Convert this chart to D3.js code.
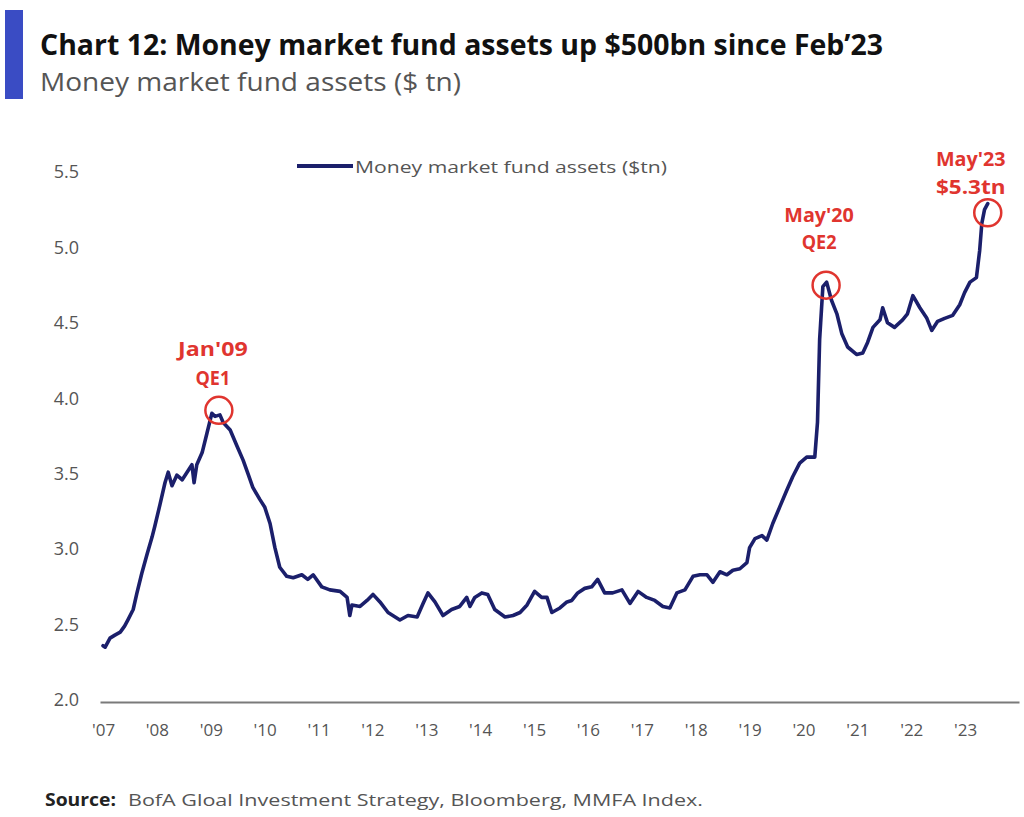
<!DOCTYPE html>
<html>
<head>
<meta charset="utf-8">
<script src="https://cdn.jsdelivr.net/npm/d3@7"></script>
<style>
  html, body { margin: 0; padding: 0; background: #ffffff; }
  svg { display: block; }
  text { font-family: "Open Sans", "Noto Sans", sans-serif; }
</style>
</head>
<body>
<svg id="chart" width="1024" height="817"></svg>
<script>
// ---- Data ----
const years = [
  2007.00, 2007.04, 2007.13, 2007.22, 2007.32, 2007.40, 2007.46, 2007.56, 2007.63, 2007.72,
  2007.82, 2007.91, 2007.96, 2008.06, 2008.15, 2008.21, 2008.28, 2008.37, 2008.47, 2008.56,
  2008.65, 2008.69, 2008.74, 2008.84, 2008.93, 2009.02, 2009.08, 2009.17, 2009.23, 2009.36,
  2009.49, 2009.60, 2009.69, 2009.78, 2009.91, 2010.00, 2010.10, 2010.19, 2010.28, 2010.41,
  2010.53, 2010.69, 2010.80, 2010.90, 2011.06, 2011.21, 2011.40, 2011.53, 2011.58, 2011.62,
  2011.77, 2011.90, 2012.01, 2012.14, 2012.29, 2012.51, 2012.66, 2012.83, 2012.94, 2013.03,
  2013.16, 2013.31, 2013.47, 2013.62, 2013.75, 2013.81, 2013.90, 2014.03, 2014.14, 2014.27,
  2014.46, 2014.61, 2014.74, 2014.87, 2015.01, 2015.14, 2015.24, 2015.33, 2015.48, 2015.61,
  2015.70, 2015.81, 2015.94, 2016.07, 2016.18, 2016.31, 2016.46, 2016.63, 2016.78, 2016.93,
  2017.09, 2017.24, 2017.39, 2017.52, 2017.65, 2017.80, 2017.95, 2018.08, 2018.21, 2018.32,
  2018.45, 2018.58, 2018.69, 2018.82, 2018.95, 2019.00, 2019.10, 2019.23, 2019.32, 2019.43,
  2019.56, 2019.69, 2019.80, 2019.93, 2020.06, 2020.21, 2020.26, 2020.30, 2020.36, 2020.43,
  2020.52, 2020.62, 2020.71, 2020.82, 2020.99, 2021.10, 2021.19, 2021.29, 2021.42, 2021.47,
  2021.56, 2021.69, 2021.84, 2021.93, 2022.03, 2022.16, 2022.29, 2022.38, 2022.49, 2022.62,
  2022.77, 2022.90, 2022.99, 2023.09, 2023.21, 2023.27, 2023.31, 2023.36, 2023.42
];
const assets = [
  2.36, 2.35, 2.41, 2.43, 2.45, 2.49, 2.53, 2.60, 2.71, 2.84,
  2.97, 3.08, 3.15, 3.30, 3.44, 3.51, 3.42, 3.49, 3.46, 3.51,
  3.56, 3.44, 3.56, 3.64, 3.77, 3.90, 3.88, 3.89, 3.84, 3.79,
  3.68, 3.59, 3.50, 3.41, 3.33, 3.28, 3.17, 3.01, 2.88, 2.82,
  2.81, 2.83, 2.80, 2.83, 2.75, 2.73, 2.72, 2.68, 2.56, 2.63,
  2.62, 2.66, 2.70, 2.65, 2.58, 2.53, 2.56, 2.55, 2.64, 2.71,
  2.65, 2.56, 2.60, 2.62, 2.68, 2.62, 2.68, 2.71, 2.70, 2.60,
  2.55, 2.56, 2.58, 2.63, 2.72, 2.68, 2.68, 2.58, 2.61, 2.65,
  2.66, 2.71, 2.74, 2.75, 2.80, 2.71, 2.71, 2.73, 2.64, 2.72,
  2.68, 2.66, 2.62, 2.61, 2.71, 2.73, 2.82, 2.83, 2.83, 2.78,
  2.85, 2.83, 2.86, 2.87, 2.91, 3.01, 3.07, 3.09, 3.06, 3.17,
  3.28, 3.39, 3.48, 3.57, 3.61, 3.61, 3.84, 4.39, 4.74, 4.77,
  4.65, 4.56, 4.43, 4.34, 4.29, 4.30, 4.37, 4.47, 4.52, 4.60,
  4.50, 4.47, 4.52, 4.56, 4.68, 4.60, 4.53, 4.45, 4.51, 4.53,
  4.55, 4.62, 4.70, 4.77, 4.80, 4.98, 5.16, 5.25, 5.29
];
const yTicks = [2.0, 2.5, 3.0, 3.5, 4.0, 4.5, 5.0, 5.5];
const xTicks = [2007, 2008, 2009, 2010, 2011, 2012, 2013, 2014, 2015, 2016, 2017, 2018, 2019, 2020, 2021, 2022, 2023];
const xTickLabels = ["'07", "'08", "'09", "'10", "'11", "'12", "'13", "'14", "'15", "'16", "'17", "'18", "'19", "'20", "'21", "'22", "'23"];
const annotYears = [2009.15, 2020.42, 2023.42];
const annotValues = [3.92, 4.75, 5.23];
const annotLine1 = ["Jan'09", "May'20", "May'23"];
const annotLine2 = ["QE1", "QE2", "$5.3tn"];

const titleText = "Chart 12: Money market fund assets up $500bn since Feb\u201923";
const subtitleText = "Money market fund assets ($ tn)";
const legendText = "Money market fund assets ($tn)";
const sourceLabel = "Source:";
const sourceText = "BofA Gloal Investment Strategy, Bloomberg, MMFA Index.";

// ---- Drawing ----
const NAVY = "#1b1f6b";
const RED = "#e0352f";
const GREY = "#555555";

const svg = d3.select("#chart");

const x = d3.scaleLinear().domain([2006.944, 2024.0]).range([100, 1019]);
const y = d3.scaleLinear().domain([2.0, 5.5]).range([700, 172]);

// left accent bar
svg.append("rect").attr("x", 5).attr("y", 10).attr("width", 18).attr("height", 89).attr("fill", "#3a4cc4");

// title & subtitle
svg.append("text").attr("x", 40).attr("y", 55)
  .attr("font-size", 28).attr("font-weight", 700).attr("fill", "#111")
  .attr("textLength", 843).attr("lengthAdjust", "spacingAndGlyphs")
  .text(titleText);
svg.append("text").attr("x", 40).attr("y", 91)
  .attr("font-size", 25).attr("fill", GREY)
  .attr("textLength", 421).attr("lengthAdjust", "spacingAndGlyphs")
  .text(subtitleText);

// y axis (labels only)
const yAxis = d3.axisLeft(y).tickValues(yTicks).tickFormat(d3.format(".1f")).tickSize(0).tickPadding(0);
const gy = svg.append("g").attr("transform", "translate(79,0)").call(yAxis);
gy.select(".domain").remove();
gy.selectAll("text").attr("font-size", 18).attr("fill", GREY)
  .attr("font-family", "'Open Sans', 'Noto Sans', sans-serif");

// x axis
const xAxis = d3.axisBottom(x).tickValues(xTicks)
  .tickFormat((d, i) => xTickLabels[i]).tickSize(0).tickPadding(22);
const gx = svg.append("g").attr("transform", "translate(0,702)").call(xAxis);
gx.select(".domain").attr("stroke", "#7a7a7a").attr("stroke-width", 2.2);
gx.selectAll("text").attr("font-size", 17).attr("fill", GREY)
  .attr("font-family", "'Open Sans', 'Noto Sans', sans-serif");

// series line
const series = years.map((yr, i) => ({ t: yr, v: assets[i] }));
const line = d3.line().x(d => x(d.t)).y(d => y(d.v)).curve(d3.curveLinear);
svg.append("path").datum(series)
  .attr("d", line).attr("fill", "none")
  .attr("stroke", NAVY).attr("stroke-width", 3.6)
  .attr("stroke-linejoin", "round").attr("stroke-linecap", "round");

// legend
svg.append("line").attr("x1", 297).attr("x2", 353).attr("y1", 166).attr("y2", 166)
  .attr("stroke", NAVY).attr("stroke-width", 4);
svg.append("text").attr("x", 355).attr("y", 173)
  .attr("font-size", 17).attr("fill", GREY)
  .attr("textLength", 312).attr("lengthAdjust", "spacingAndGlyphs")
  .text(legendText);

// annotations
const labelDx = [-6, -7, -17];
const labelDy1 = [-54, -63, -47];
const labelDy2 = [-25, -36, -19];
const annots = annotYears.map((t, i) => ({ t, v: annotValues[i], l1: annotLine1[i], l2: annotLine2[i], dx: labelDx[i], dy1: labelDy1[i], dy2: labelDy2[i] }));
const ag = svg.append("g");
ag.selectAll("circle").data(annots).join("circle")
  .attr("cx", d => x(d.t)).attr("cy", d => y(d.v)).attr("r", 13.5)
  .attr("fill", "none").attr("stroke", RED).attr("stroke-width", 2.5);
ag.selectAll("text.l1").data(annots).join("text").attr("class", "l1")
  .attr("x", d => x(d.t) + d.dx).attr("y", d => y(d.v) + d.dy1)
  .attr("text-anchor", "middle").attr("font-size", 20).attr("font-weight", 700).attr("fill", RED)
  .attr("textLength", d => d.l1.length * 11.6).attr("lengthAdjust", "spacingAndGlyphs")
  .text(d => d.l1);
ag.selectAll("text.l2").data(annots).join("text").attr("class", "l2")
  .attr("x", d => x(d.t) + d.dx).attr("y", d => y(d.v) + d.dy2)
  .attr("text-anchor", "middle").attr("font-size", 20).attr("font-weight", 700).attr("fill", RED)
  .attr("textLength", d => d.l2.length * 11.6).attr("lengthAdjust", "spacingAndGlyphs")
  .text(d => d.l2);

// source
svg.append("text").attr("x", 45).attr("y", 806)
  .attr("font-size", 17).attr("font-weight", 700).attr("fill", "#222")
  .attr("textLength", 71).attr("lengthAdjust", "spacingAndGlyphs")
  .text(sourceLabel);
svg.append("text").attr("x", 128).attr("y", 806)
  .attr("font-size", 17).attr("fill", GREY)
  .attr("textLength", 575).attr("lengthAdjust", "spacingAndGlyphs")
  .text(sourceText);
</script>
</body>
</html>
